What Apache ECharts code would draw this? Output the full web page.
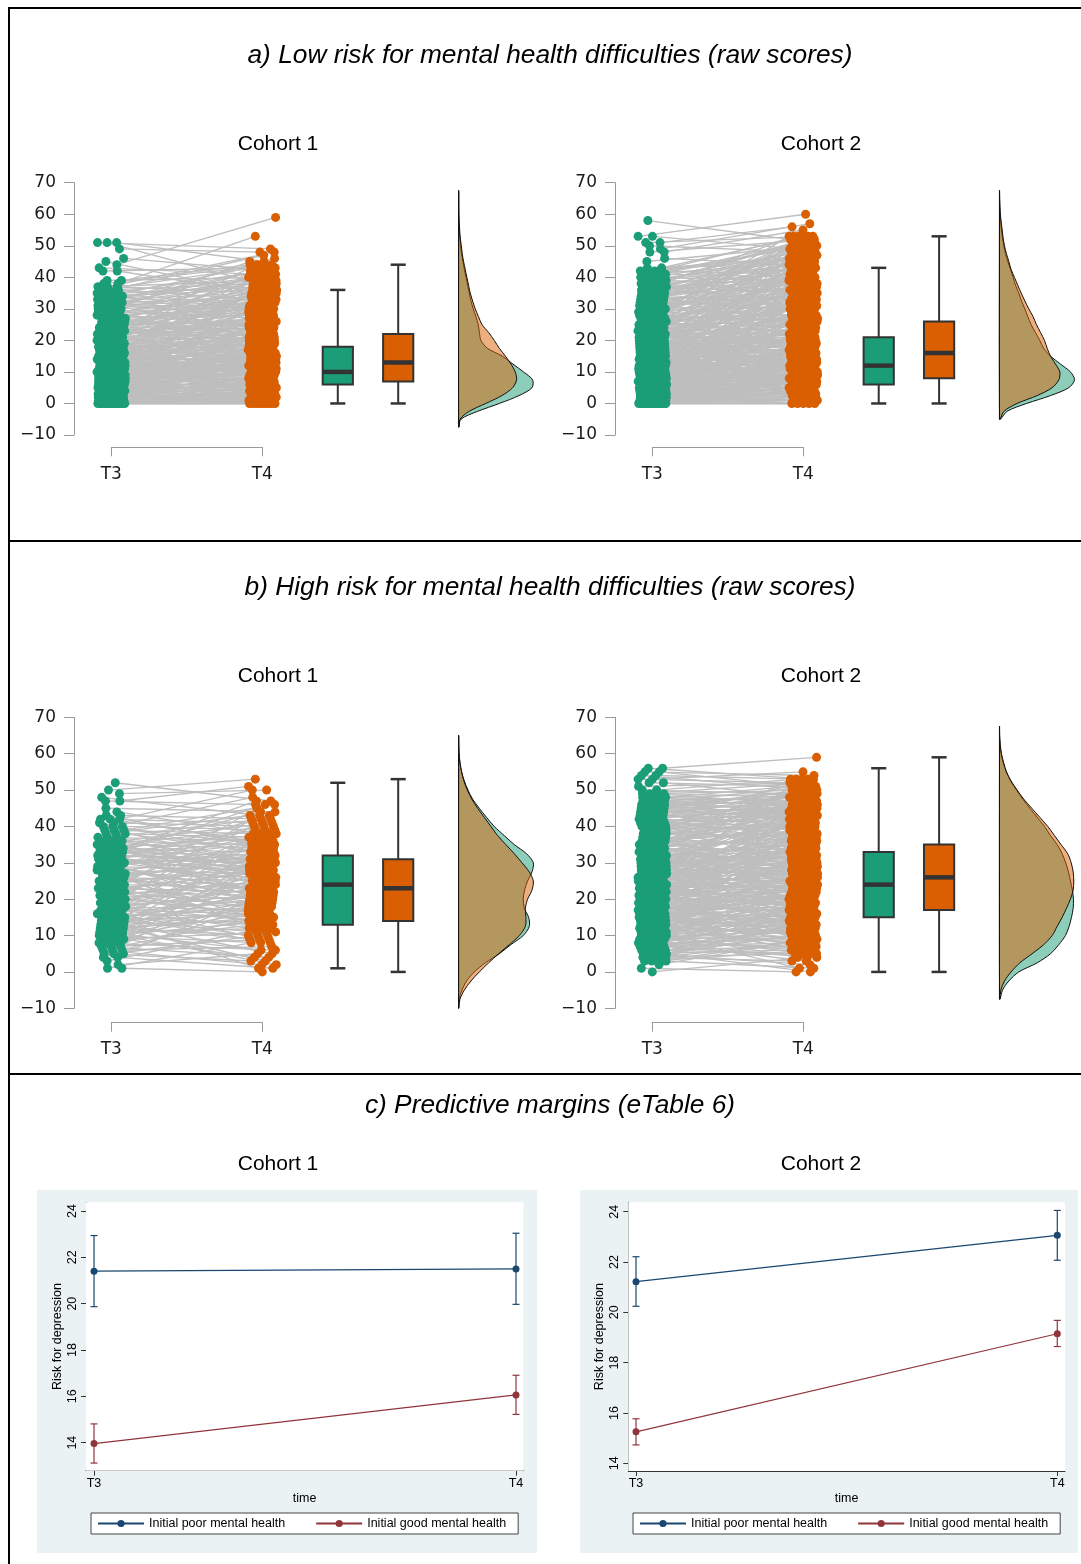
<!DOCTYPE html>
<html>
<head>
<meta charset="utf-8">
<script src="https://cdn.jsdelivr.net/npm/echarts@6/dist/echarts.min.js"></script>
<style>
html,body{margin:0;padding:0;background:#fff;}
#chart{width:1081px;height:1564px;}
</style>
</head>
<body>
<div id="chart"></div>
<script>
// ======================= DATA =======================
const timeLabels = ['T3', 'T4'];

// Raincloud panels: each array index = T3 raw score, listing the T4 raw scores
// of the participants who had that T3 score (read/estimated from the picture).
const c1LowT4byT3 = [
 [0,0,2,5,0,9,3,12,1,0,7,4,15,2,6,20],[1,4,0,8,13,3,17,6],[2,6,0,11,4,9,19,1],[3,7,1,12,5,0,16,24],
 [4,8,2,14,6,10,0,21,27],[5,9,3,11,7,15,1,23,30],[6,10,4,13,8,2,18,12,25,33],
 [7,11,5,14,9,3,17,10,22,0,13,28,36],[8,12,6,15,10,4,19,11,24,2,14,31,38],[9,13,7,16,11,5,20,12,26,1,15,29,40],
 [10,14,8,17,12,6,21,13,27,3,16,33,42,19],[11,15,9,18,13,7,24,30,20],[12,16,10,19,14,26,35,8],
 [13,17,11,21,15,28,9,37],[14,19,12,23,16,32,10],[15,20,13,25,18,34,11],[16,21,14,26,19,39,12],
 [17,22,15,27,20,41],[18,23,16,29,21,36,13],[20,25,17,31,14,28,36],[21,27,18,35,24,16,38],[22,28,43,17,33,26],
 [23,30,19,27,15,37],[24,32,44,29,20,35],[25,34,21,30,18,40],[26,36,22,31,19],[28,38,22,33,25],
 [29,39,24,34,21],[30,40,25,35,20],[31,45,27,36],[32,41,27,24,37],[33,42,28,38],[34,43,29,26,40],
 [35,46,30,39],[36,44,30,41],[37,47,31,42],[38,33,43],[39,48,35],[53,44],[40,44],[],[],[43,35],[41],
 [59],[34],[42],[],[],[48],[],[45,49,37]
];
const c2LowT4byT3 = [
 [0,2,0,5,1,8,3,11,0,6,14,4,9,2,18,7,23,12],[1,4,0,7,10,3,15,6,20,13],[2,5,1,9,12,4,17,8,24,0],
 [3,7,2,10,14,5,19,9,26,1,30],[4,8,3,12,16,6,21,10,28,2,33],[5,9,4,13,18,7,23,11,29,3,35,15],
 [6,10,5,14,19,8,25,12,31,4,37,16],[7,12,6,16,21,9,27,13,34,3,39],[8,13,7,17,22,10,29,15,36,5,41],
 [9,14,8,18,24,11,31,16,38,6,43],[10,15,9,20,25,12,33,18,40,7,45],[11,16,10,21,27,13,35,19,42,8,47],
 [12,17,11,22,28,14,36,20,44,9,49,26],[13,18,12,24,30,16,38,10,46],[14,20,13,25,32,17,40,11,50],
 [15,21,14,27,33,19,42,52],[16,22,15,28,35,20,44,12],[17,23,16,30,37,21,46,13],[18,25,17,31,39,22,48,14],
 [19,26,18,33,40,24,51,15],[20,27,19,34,42,25,53,16],[21,28,20,36,43,26,47,17],[22,30,38,45,19,27,35],
 [23,31,40,47,20,28,36],[25,33,41,49,21,30,44],[26,34,43,50,23,38],[27,36,44,22,31,47],[28,37,46,52,24,33],
 [30,39,48,26,43,35],[31,40,50,27,45],[32,42,53,28,37,47],[33,43,27,38,49],[34,45,51,30,40],[35,46,29,41,50],
 [37,48,31,43,52],[38,49,31,44,36],[39,50,33,46],[40,52,35,45],[41,53,36,48],[43,47,38,51],[44,51,39,48],
 [45,49,40,53],[46,53,41,50],[47,44],[],[50],[44],[],[55,52],[57],[48],[56,53],[],[60,49],[],[],[],[],[52]
];
const c1HighT4byT3 = [
 [],[0,8],[5],[12],[1,18],[3,10,22],[7,2,26],[9,15,4],[6,13,20,31],[11,4,17,28],[8,14,19,2,35],
 [12,6,18,24,30],[10,15,3,21,38],[14,9,19,27,1],[11,16,22,5,33],[13,18,8,25,40],[15,20,10,29],
 [16,12,23,36],[17,21,14,31],[18,24,9,42],[19,16,26,34],[20,25,13,37],[21,18,28,45],[22,27,15],
 [23,19,30,41],[24,28,17,33],[25,21,31,12],[26,30,20,35,14],[27,23,32,38,11],[28,33,22,40,16],
 [29,25,34,19,43,31],[30,35,24,27,46],[31,26,36,21,39,30],[32,37,28,22,44],[33,29,38,25,47],
 [34,39,30,20],[35,31,41,26],[36,42,28],[37,33,43],[38,29,46],[39,35,48],[40,32],[41,36,50],[42,34],
 [38],[44],[],[46,51],[43],[50],[53],[],[47]
];
const c2HighT4byT3 = [
 [4],[0],[9],[1,14,6,9],[3,8,20,11,5],[6,2,16,10,13],[5,10,0,24,12,7],[8,12,4,19,15,10],[7,11,15,3,27,18,9],
 [10,6,14,21,30,12,17],[9,13,5,17,24,1,11,20],[12,8,16,22,4,33,14,19],[11,15,7,19,25,13,36],
 [14,10,18,6,23,28,16,39],[13,17,9,21,26,15,31,5],
 [16,12,20,8,24,18,29,14,34,22,42],[15,19,11,23,27,17,32,7,44],[18,14,22,26,10,30,20,36,47],
 [17,21,13,25,29,19,34,9,40],[20,16,24,28,12,32,22,38,50],[19,23,15,27,31,21,36,11,45],
 [22,18,26,30,14,34,24,41,8],[21,25,17,29,33,23,38,13,48],[24,20,28,32,16,36,26,43,52],
 [23,27,19,31,35,25,40,15,46],[26,22,30,34,18,38,28,50],[25,29,21,33,37,27,42,12],
 [28,24,32,36,20,40,30,53],[27,31,23,35,39,29,45,17],[30,26,34,38,22,42,32,49],[29,33,25,37,41,31,46,19],
 [32,28,36,40,24,44,51],[31,35,27,39,43,33,21],[34,30,38,42,26,47,53],[33,37,29,41,45,24],
 [36,32,40,44,28,50],[35,39,31,43,48],[38,34,42,46,27],[37,41,33,45,51],[40,36,44,30],[39,43,35,49,45,37],
 [42,38,46,32,44,40],[41,45,37,52,47,39],[44,40,48,42,46],[43,47,36,45,50],[46,42,50,44,48],[45,49,39,47,43],
 [48,44,46,51],[47,51,41,49,45],[50,46,48,52],[49,53],[52],[51,48],[52,55],[53,50],[54,51],[59,53]
];

// Box plots: [lower whisker, Q1, median, Q3, upper whisker]
const c1LowBoxT3  = [0, 6, 10, 18, 36];
const c1LowBoxT4  = [0, 7, 13, 22, 44];
const c2LowBoxT3  = [0, 6, 12, 21, 43];
const c2LowBoxT4  = [0, 8, 16, 26, 53];
const c1HighBoxT3 = [1, 13, 24, 32, 52];
const c1HighBoxT4 = [0, 14, 23, 31, 53];
const c2HighBoxT3 = [0, 15, 24, 33, 56];
const c2HighBoxT4 = [0, 17, 26, 35, 59];

// Density curves (half violins), sampled on this score grid
const densityGrid = [-10,-7.5,-5,-2.5,0,2.5,5,7.5,10,12.5,15,17.5,20,22.5,25,27.5,30,32.5,35,37.5,40,42.5,45,47.5,50,52.5,55,57.5,60,62.5,65,67.5,70];
const c1LowDensT3 = [0,.0002,.0015,.0126,.027,.040,.0486,.049,.043,.036,.029,.019,.0148,.0138,.013,.0115,.0097,.0082,.0071,.006,.0049,.0038,.0029,.002,.0013,.0009,.0004,.0002,.0001,.0001,.0001,.00005,0];
const c1LowDensT4 = [0,.0003,.0009,.007,.018,.0287,.0358,.0384,.0375,.0347,.031,.027,.0236,.0199,.0155,.0132,.011,.0093,.0077,.0066,.0055,.0044,.0033,.0024,.0018,.0011,.0007,.0004,.0002,.0001,.0001,.00005,0];
const c2LowDensT3 = [0,0,.0007,.005,.018,.0338,.0459,.0497,.047,.0404,.0338,.0293,.0267,.0238,.021,.0188,.0168,.0146,.0128,.0106,.009,.0073,.0055,.004,.0029,.002,.0013,.0009,.0004,.0002,.0001,.00005,0];
const c2LowDensT4 = [0,0,.0004,.0029,.0117,.025,.0349,.0393,.04,.0371,.0338,.0316,.0298,.0272,.0245,.0223,.0194,.0168,.0144,.0121,.0099,.0077,.0062,.0046,.0033,.0024,.0018,.0011,.0006,.0003,.0001,.00005,0];
const c1HighDensT3 = [.0001,.0004,.0022,.0053,.0104,.0177,.027,.0346,.0428,.0468,.0464,.0435,.0428,.0437,.0457,.0486,.0495,.045,.0369,.0302,.0236,.0185,.0137,.0093,.0062,.0038,.002,.0009,.0003,.0001,.00005,0,0];
const c1HighDensT4 = [.0001,.0009,.0038,.0082,.0137,.0199,.0265,.0336,.0402,.0442,.0446,.0442,.0457,.0486,.0495,.0468,.042,.0369,.0313,.0258,.0214,.017,.0126,.0088,.0058,.0035,.002,.0009,.0003,.0001,.00005,0,0];
const c2HighDensT3 = [0,.0004,.002,.0062,.0128,.025,.0338,.0393,.0437,.0461,.0477,.0488,.049,.0483,.047,.0457,.0439,.0415,.0382,.0338,.0298,.025,.0201,.0154,.0113,.0073,.0046,.0024,.0011,.0004,.0001,.00005,0];
const c2HighDensT4 = [0,.0002,.0009,.0033,.0077,.0135,.0216,.0293,.0349,.0382,.0415,.0444,.047,.0488,.0492,.0488,.0475,.0452,.0408,.0364,.032,.0267,.0214,.0161,.0117,.0077,.0046,.0028,.0013,.0005,.0001,.00005,0];

// Predictive margins (eTable 6): values at T3, T4 with 95% CI
const legendNames = ['Initial poor mental health', 'Initial good mental health'];
const c1PoorMargin = [21.40, 21.50], c1PoorLo = [19.87, 19.97], c1PoorHi = [22.94, 23.04];
const c1GoodMargin = [13.96, 16.06], c1GoodLo = [13.12, 15.22], c1GoodHi = [14.81, 16.91];
const c2PoorMargin = [21.22, 23.06], c2PoorLo = [20.24, 22.07], c2PoorHi = [22.21, 24.05];
const c2GoodMargin = [15.25, 19.15], c2GoodLo = [14.73, 18.64], c2GoodHi = [15.77, 19.68];
const marginTicks = [14, 16, 18, 20, 22, 24];

// ======================= LAYOUT / STYLE =======================
const GREEN = '#1b9e77', ORANGE = '#d95f02';
const GREEN_A = 'rgba(27,158,119,0.5)', ORANGE_A = 'rgba(217,95,2,0.5)';
const NAVY = '#1a476f', MAROON = '#90353b';
const AXIS_GRAY = '#9a9a9a';
const RC_FONT = '"DejaVu Sans", Verdana, sans-serif';
const ST_FONT = '"Liberation Sans", Arial, Helvetica, sans-serif';
const X_MIN = 0.753, X_MAX = 3.84, PX = 151;
const JIT = 0.095;
const DOT = 9;
const BOX_X = [2.5, 2.9], BOX_HALF = 0.1, CAP_HALF = 0.05;
const DENS_BASE = 3.3, DENS_SCALE = 10;

const panels = [
  {data: c1LowT4byT3, box: [c1LowBoxT3, c1LowBoxT4], dens: [c1LowDensT3, c1LowDensT4], left: 74, top: 182.7, height: 252.3, bracketY: 447.3},
  {data: c2LowT4byT3, box: [c2LowBoxT3, c2LowBoxT4], dens: [c2LowDensT3, c2LowDensT4], left: 615, top: 182.7, height: 252.3, bracketY: 447.3},
  {data: c1HighT4byT3, box: [c1HighBoxT3, c1HighBoxT4], dens: [c1HighDensT3, c1HighDensT4], left: 74, top: 717.3, height: 291, bracketY: 1022.7},
  {data: c2HighT4byT3, box: [c2HighBoxT3, c2HighBoxT4], dens: [c2HighDensT3, c2HighDensT4], left: 615, top: 717.3, height: 291, bracketY: 1022.7}
];

const stataPanels = [
  {poor: c1PoorMargin, poorLo: c1PoorLo, poorHi: c1PoorHi, good: c1GoodMargin, goodLo: c1GoodLo, goodHi: c1GoodHi,
   left: 86, top: 1202.3, width: 437.3, height: 268.4, yMin: 12.79, yMax: 24.375, xMin: -0.019, xMax: 1.0173,
   bg: [37, 1190, 500, 363], legendLeft: 91},
  {poor: c2PoorMargin, poorLo: c2PoorLo, poorHi: c2PoorHi, good: c2GoodMargin, goodLo: c2GoodLo, goodHi: c2GoodHi,
   left: 628.3, top: 1202.3, width: 436.7, height: 268.7, yMin: 13.694, yMax: 24.373, xMin: -0.0183, xMax: 1.0183,
   bg: [580, 1190, 498, 363], legendLeft: 633}
];

const grid = [], xAxis = [], yAxis = [], series = [];

// deterministic beeswarm-like spread of the dots that share one score
function spreadLayout(parts, key, xc, outKey) {
  const groups = {};
  parts.forEach(q => { (groups[q[key]] = groups[q[key]] || []).push(q); });
  Object.keys(groups).forEach(lv => {
    const g = groups[lv], m = g.length;
    g.forEach((q, j) => {
      const f = ((j + 0.5) / m + (+lv) * 0.618034) % 1;
      q[outKey] = xc + (f - 0.5) * 2 * JIT;
    });
  });
}

panels.forEach(p => {
  const gi = grid.length;
  grid.push({left: p.left, top: p.top, width: (X_MAX - X_MIN) * PX, height: p.height});
  xAxis.push({gridIndex: gi, type: 'value', min: X_MIN, max: X_MAX, show: false});
  yAxis.push({gridIndex: gi, type: 'value', min: -10, max: 70, interval: 10,
    axisLine: {show: true, lineStyle: {color: AXIS_GRAY, width: 1}},
    axisTick: {show: true, length: 10, lineStyle: {color: AXIS_GRAY, width: 1}},
    axisLabel: {fontSize: 17, color: '#1a1a1a', margin: 18, fontFamily: RC_FONT,
      formatter: v => v < 0 ? '\u2212' + Math.abs(v) : String(v)},
    splitLine: {show: false}});

  const parts = [];
  p.data.forEach((arr, t3) => arr.forEach(t4 => parts.push({t3: t3, t4: t4})));
  spreadLayout(parts, 't3', 1, 'x3');
  spreadLayout(parts, 't4', 2, 'x4');

  series.push({type: 'custom', xAxisIndex: gi, yAxisIndex: gi, z: 1, silent: true,
    dimensions: ['x3', 't3', 'x4', 't4'], encode: {x: [0, 2], y: [1, 3]},
    data: parts.map(q => [q.x3, q.t3, q.x4, q.t4]),
    renderItem: (params, api) => {
      const a = api.coord([api.value(0), api.value(1)]);
      const b = api.coord([api.value(2), api.value(3)]);
      return {type: 'line', shape: {x1: a[0], y1: a[1], x2: b[0], y2: b[1]},
        style: {stroke: '#bebebe', lineWidth: 1.35}};
    }});
  series.push({type: 'scatter', xAxisIndex: gi, yAxisIndex: gi, z: 3, silent: true,
    symbol: 'circle', symbolSize: DOT, itemStyle: {color: GREEN, opacity: 1},
    data: parts.map(q => [q.x3, q.t3])});
  series.push({type: 'scatter', xAxisIndex: gi, yAxisIndex: gi, z: 3, silent: true,
    symbol: 'circle', symbolSize: DOT, itemStyle: {color: ORANGE, opacity: 1},
    data: parts.map(q => [q.x4, q.t4])});

  // box plots
  series.push({type: 'custom', xAxisIndex: gi, yAxisIndex: gi, z: 3, silent: true,
    data: p.box.map((b, i) => [i].concat(b)),
    renderItem: (params, api) => {
      const i = api.value(0), xc = BOX_X[i], col = i ? ORANGE : GREEN;
      const mn = api.value(1), q1 = api.value(2), md = api.value(3), q3 = api.value(4), mx = api.value(5);
      const c = (x, y) => api.coord([x, y]);
      const ln = (a, b, w) => ({type: 'line', shape: {x1: a[0], y1: a[1], x2: b[0], y2: b[1]}, style: {stroke: '#333', lineWidth: w}});
      const tl = c(xc - BOX_HALF, q3), br = c(xc + BOX_HALF, q1);
      return {type: 'group', children: [
        ln(c(xc, mx), c(xc, q3), 2), ln(c(xc, q1), c(xc, mn), 2),
        ln(c(xc - CAP_HALF, mx), c(xc + CAP_HALF, mx), 2.5), ln(c(xc - CAP_HALF, mn), c(xc + CAP_HALF, mn), 2.5),
        {type: 'rect', shape: {x: tl[0], y: tl[1], width: br[0] - tl[0], height: br[1] - tl[1]},
          style: {fill: col, stroke: '#333', lineWidth: 2}},
        ln(c(xc - BOX_HALF, md), c(xc + BOX_HALF, md), 4.5)
      ]};
    }});

  // half-violin densities
  series.push({type: 'custom', xAxisIndex: gi, yAxisIndex: gi, z: 4, silent: true,
    data: [[0], [1]],
    renderItem: (params, api) => {
      const i = params.dataIndex, d = p.dens[i];
      let first = 0; while (first < d.length && !(d[first] > 0)) first++;
      let last = d.length - 1; while (last >= 0 && !(d[last] > 0)) last--;
      const pts = [api.coord([DENS_BASE, densityGrid[first]])];
      for (let k = first; k <= last; k++) pts.push(api.coord([DENS_BASE + d[k] * DENS_SCALE, densityGrid[k]]));
      pts.push(api.coord([DENS_BASE, densityGrid[last]]));
      return {type: 'polygon', shape: {points: pts, smooth: 0.3},
        style: {fill: i ? ORANGE_A : GREEN_A, stroke: '#111', lineWidth: 1}};
    }});

  // bracket time axis
  const bi = grid.length;
  grid.push({left: p.left + (1 - X_MIN) * PX, top: p.bracketY - 2, width: PX, height: 2});
  xAxis.push({gridIndex: bi, type: 'category', data: timeLabels, boundaryGap: false,
    axisLine: {show: true, lineStyle: {color: AXIS_GRAY, width: 1}},
    axisTick: {show: true, length: 9, lineStyle: {color: AXIS_GRAY, width: 1}},
    axisLabel: {fontSize: 17, color: '#1a1a1a', margin: 18.5, fontFamily: RC_FONT, interval: 0}});
  yAxis.push({gridIndex: bi, type: 'value', show: false});
});

stataPanels.forEach(s => {
  const gi = grid.length;
  grid.push({left: s.left, top: s.top, width: s.width, height: s.height, show: true, backgroundColor: '#ffffff', borderWidth: 0, z: 1});
  xAxis.push({gridIndex: gi, type: 'value', min: s.xMin, max: s.xMax,
    axisLine: {show: true, onZero: false, lineStyle: {color: '#333', width: 1}},
    axisTick: {show: true, customValues: [0, 1], length: 5, lineStyle: {color: '#333'}},
    axisLabel: {customValues: [0, 1], formatter: v => timeLabels[Math.round(v)], fontSize: 12.5, color: '#000', margin: 6, fontFamily: ST_FONT},
    splitLine: {show: false},
    name: 'time', nameLocation: 'middle', nameGap: 21, nameTextStyle: {fontSize: 12.5, color: '#000', fontFamily: ST_FONT}});
  yAxis.push({gridIndex: gi, type: 'value', min: s.yMin, max: s.yMax,
    axisLine: {show: true, onZero: false, lineStyle: {color: '#333', width: 1}},
    axisTick: {show: true, customValues: marginTicks, length: 5, lineStyle: {color: '#333'}},
    axisLabel: {customValues: marginTicks, rotate: 90, fontSize: 12.5, color: '#000', margin: 7, fontFamily: ST_FONT},
    splitLine: {show: true, lineStyle: {color: '#e3ecee', width: 1}},
    name: 'Risk for depression', nameLocation: 'middle', nameRotate: 90, nameGap: 22,
    nameTextStyle: {fontSize: 12.5, color: '#000', fontFamily: ST_FONT}});

  const groups = [
    {name: legendNames[0], v: s.poor, lo: s.poorLo, hi: s.poorHi, col: NAVY},
    {name: legendNames[1], v: s.good, lo: s.goodLo, hi: s.goodHi, col: MAROON}
  ];
  groups.forEach(g => {
    series.push({type: 'custom', xAxisIndex: gi, yAxisIndex: gi, z: 3, silent: true,
      data: g.v.map((v, i) => [i, g.lo[i], g.hi[i]]),
      renderItem: (params, api) => {
        const x = api.value(0);
        const a = api.coord([x, api.value(1)]), b = api.coord([x, api.value(2)]);
        const st = {stroke: g.col, lineWidth: 1.2};
        return {type: 'group', children: [
          {type: 'line', shape: {x1: a[0], y1: a[1], x2: b[0], y2: b[1]}, style: st},
          {type: 'line', shape: {x1: a[0] - 3.5, y1: a[1], x2: a[0] + 3.5, y2: a[1]}, style: st},
          {type: 'line', shape: {x1: b[0] - 3.5, y1: b[1], x2: b[0] + 3.5, y2: b[1]}, style: st}
        ]};
      }});
    series.push({type: 'line', name: g.name, xAxisIndex: gi, yAxisIndex: gi, z: 4, silent: true,
      data: g.v.map((v, i) => [i, v]), symbol: 'circle', symbolSize: 7, showSymbol: true,
      itemStyle: {color: g.col}, lineStyle: {color: g.col, width: 1.2}});
  });
});

const legend = stataPanels.map(s => ({
  left: s.legendLeft, top: 1513, orient: 'horizontal', data: legendNames, selectedMode: false,
  itemWidth: 46, itemHeight: 9, itemGap: 30, padding: [4, 12, 4, 6],
  borderColor: '#444', borderWidth: 1, borderRadius: 0, backgroundColor: '#ffffff',
  textStyle: {fontSize: 12.5, color: '#000', fontFamily: ST_FONT}
}));

const txt = (x, y, text, font) => ({type: 'text', x: x, y: y, z: 10,
  style: {text: text, font: font, fill: '#000', align: 'center', verticalAlign: 'middle'}});
const hline = (x1, y1, x2, y2) => ({type: 'line', z: 10, shape: {x1: x1, y1: y1, x2: x2, y2: y2}, style: {stroke: '#000', lineWidth: 2}});
const TITLE_FONT = 'italic 26.3px "Liberation Sans", Arial, sans-serif';
const COHORT_FONT = '21px "Liberation Sans", Arial, sans-serif';

const graphicEls = [];
stataPanels.forEach(s => graphicEls.push({type: 'rect', z: -10, shape: {x: s.bg[0], y: s.bg[1], width: s.bg[2], height: s.bg[3]}, style: {fill: '#eaf2f3'}}));
graphicEls.push(hline(8, 8, 1081, 8), hline(9, 8, 9, 1564), hline(8, 541, 1081, 541), hline(8, 1074, 1081, 1074));
graphicEls.push(txt(550, 56, 'a) Low risk for mental health difficulties (raw scores)', TITLE_FONT));
graphicEls.push(txt(550, 588, 'b) High risk for mental health difficulties (raw scores)', TITLE_FONT));
graphicEls.push(txt(550, 1106, 'c) Predictive margins (eTable 6)', TITLE_FONT));
[144, 676, 1164].forEach(y => {
  graphicEls.push(txt(278, y, 'Cohort 1', COHORT_FONT));
  graphicEls.push(txt(821, y, 'Cohort 2', COHORT_FONT));
});

const chart = echarts.init(document.getElementById('chart'), null, {renderer: 'canvas'});
chart.setOption({
  backgroundColor: '#ffffff',
  animation: false,
  grid: grid, xAxis: xAxis, yAxis: yAxis, series: series,
  legend: legend,
  graphic: {elements: graphicEls}
});
</script>
</body>
</html>
